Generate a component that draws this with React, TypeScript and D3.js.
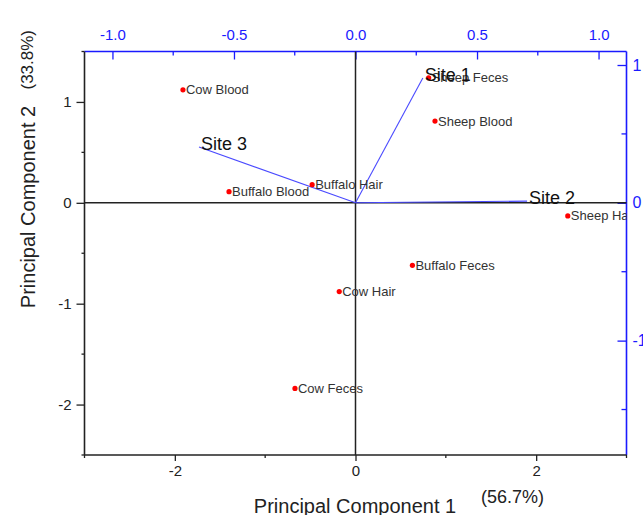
import React, { useEffect, useRef } from 'react';
import * as d3 from 'd3';

// sample scores (PC1, PC2)
const sampleNames = ['Cow Blood', 'Sheep Feces', 'Sheep Blood', 'Buffalo Hair', 'Buffalo Blood', 'Sheep Hair', 'Buffalo Feces', 'Cow Hair', 'Cow Feces'];
const pc1Scores = [-1.91, 0.81, 0.88, -0.48, -1.40, 2.35, 0.63, -0.18, -0.67];
const pc2Scores = [1.12, 1.24, 0.81, 0.18, 0.11, -0.13, -0.62, -0.88, -1.84];

// loadings (top / right axes)
const siteNames = ['Site 1', 'Site 2', 'Site 3'];
const loading1 = [0.277, 0.706, -0.644];
const loading2 = [0.906, 0.012, 0.405];

const bottomTicks = [-2, 0, 2];
const bottomMinor = [-3, -1, 1, 3];
const leftTicks = [1, 0, -1, -2];
const leftMinor = [1.5, 0.5, -0.5, -1.5, -2.5];
const topTicks = [-1.0, -0.5, 0.0, 0.5, 1.0];
const topMinor = [-0.75, -0.25, 0.25, 0.75];
const rightTicks = [1, 0, -1];
const rightMinor = [0.5, -0.5, -1.5];

const App = () => {
    const svgRef = useRef(null);

    useEffect(() => {
        const svg = d3.select(svgRef.current);
        svg.selectAll('*').remove();

        const left = 84.5, right = 626.5, top = 51.5, bottom = 455;
        const blue = '#1a1aff';
        const font = 'Arial, "Liberation Sans", sans-serif';
        const intFmt = d => String(d);
        const oneFmt = d => d.toFixed(1);

        const x = d3.scaleLinear().domain([-3, 3]).range([left, right]);
        const y = d3.scaleLinear().domain([-2.5, 1.5]).range([bottom, top]);
        const xTop = d3.scaleLinear().domain([-1.115, 1.115]).range([left, right]);
        const yRight = d3.scaleLinear().domain([-1.83, 1.098]).range([bottom, top]);

        svg.append('clipPath').attr('id', 'plotclip').append('rect')
            .attr('x', left).attr('y', top).attr('width', right - left).attr('height', bottom - top);

        // bottom axis
        const gb = svg.append('g').attr('transform', `translate(0,${bottom})`);
        gb.call(d3.axisBottom(x).tickValues(bottomTicks).tickSize(6).tickPadding(4).tickFormat(intFmt));
        gb.call(g => g.select('.domain').remove());
        bottomMinor.forEach(v => gb.append('line').attr('x1', x(v)).attr('x2', x(v)).attr('y1', 0).attr('y2', 3).attr('stroke', '#222').attr('stroke-width', 1.3));
        gb.selectAll('.tick line').attr('stroke', '#222').attr('stroke-width', 1.3);
        gb.selectAll('text').attr('font-size', 15).attr('font-family', font).attr('fill', '#222');

        // left axis
        const gl = svg.append('g').attr('transform', `translate(${left},0)`);
        gl.call(d3.axisLeft(y).tickValues(leftTicks).tickSize(8).tickPadding(5).tickFormat(intFmt));
        gl.call(g => g.select('.domain').remove());
        leftMinor.forEach(v => gl.append('line').attr('x1', 0).attr('x2', -3).attr('y1', y(v)).attr('y2', y(v)).attr('stroke', '#222').attr('stroke-width', 1.3));
        gl.selectAll('.tick line').attr('stroke', '#222').attr('stroke-width', 1.3);
        gl.selectAll('text').attr('font-size', 15).attr('font-family', font).attr('fill', '#222');

        // top axis (loadings)
        const gt = svg.append('g').attr('transform', `translate(0,${top})`);
        gt.call(d3.axisTop(xTop).tickValues(topTicks).tickSize(-8).tickPadding(12).tickFormat(oneFmt));
        gt.call(g => g.select('.domain').remove());
        topMinor.forEach(v => gt.append('line').attr('x1', xTop(v)).attr('x2', xTop(v)).attr('y1', 0).attr('y2', 4).attr('stroke', blue).attr('stroke-width', 1.3));
        gt.selectAll('.tick line').attr('stroke', blue).attr('stroke-width', 1.3);
        gt.selectAll('text').attr('font-size', 15).attr('font-family', font).attr('fill', blue);

        // right axis (loadings)
        const gr = svg.append('g').attr('transform', `translate(${right},0)`);
        gr.call(d3.axisRight(yRight).tickValues(rightTicks).tickSize(-9).tickPadding(6).tickFormat(intFmt));
        gr.call(g => g.select('.domain').remove());
        rightMinor.forEach(v => gr.append('line').attr('x1', 0).attr('x2', -5).attr('y1', yRight(v)).attr('y2', yRight(v)).attr('stroke', blue).attr('stroke-width', 1.3));
        gr.selectAll('.tick line').attr('stroke', blue).attr('stroke-width', 1.3);
        gr.selectAll('text').attr('font-size', 16).attr('font-family', font).attr('fill', blue);

        // frame
        svg.append('line').attr('x1', left).attr('x2', right).attr('y1', top).attr('y2', top).attr('stroke', blue).attr('stroke-width', 1.6);
        svg.append('line').attr('x1', right).attr('x2', right).attr('y1', top).attr('y2', bottom).attr('stroke', blue).attr('stroke-width', 1.6);
        svg.append('line').attr('x1', left).attr('x2', right).attr('y1', bottom).attr('y2', bottom).attr('stroke', '#222').attr('stroke-width', 1.6);
        svg.append('line').attr('x1', left).attr('x2', left).attr('y1', top).attr('y2', bottom).attr('stroke', '#222').attr('stroke-width', 1.6);

        // zero lines
        svg.append('line').attr('x1', left).attr('x2', right).attr('y1', y(0)).attr('y2', y(0)).attr('stroke', '#222').attr('stroke-width', 1.5);
        svg.append('line').attr('x1', x(0)).attr('x2', x(0)).attr('y1', top).attr('y2', bottom).attr('stroke', '#222').attr('stroke-width', 1.5);

        // loading vectors
        const sites = siteNames.map((n, i) => ({ n, a: loading1[i], b: loading2[i] }));
        svg.selectAll('.vec').data(sites).enter().append('line')
            .attr('x1', xTop(0)).attr('y1', yRight(0))
            .attr('x2', d => xTop(d.a)).attr('y2', d => yRight(d.b))
            .attr('stroke', '#4a4aff').attr('stroke-width', 1.1);

        // sample points
        const pts = sampleNames.map((n, i) => ({ n, a: pc1Scores[i], b: pc2Scores[i] }));
        const gp = svg.append('g').attr('clip-path', 'url(#plotclip)');
        gp.selectAll('.pt').data(pts).enter().append('circle')
            .attr('cx', d => x(d.a)).attr('cy', d => y(d.b)).attr('r', 2.6).attr('fill', '#ff0000');
        gp.selectAll('.ptl').data(pts).enter().append('text')
            .attr('x', d => x(d.a) + 3).attr('y', d => y(d.b) + 4.5)
            .attr('font-size', 13).attr('font-family', font).attr('fill', '#333')
            .text(d => d.n);

        svg.selectAll('.vl').data(sites).enter().append('text')
            .attr('x', d => xTop(d.a) + 2).attr('y', d => yRight(d.b) + 3)
            .attr('font-size', 18).attr('font-family', font).attr('fill', '#111')
            .text(d => d.n);

        // axis titles
        svg.append('text').attr('x', 355).attr('y', 513).attr('text-anchor', 'middle')
            .attr('font-size', 20).attr('font-family', font).attr('fill', '#222').text('Principal Component 1');
        svg.append('text').attr('x', 481).attr('y', 503)
            .attr('font-size', 18).attr('font-family', font).attr('fill', '#222').text('(56.7%)');
        svg.append('text').attr('transform', 'rotate(-90)').attr('x', -207).attr('y', 35).attr('text-anchor', 'middle')
            .attr('font-size', 20).attr('font-family', font).attr('fill', '#222').text('Principal Component 2');
        svg.append('text').attr('transform', 'rotate(-90)').attr('x', -30).attr('y', 33).attr('text-anchor', 'end')
            .attr('font-size', 17).attr('font-family', font).attr('fill', '#222').text('(33.8%)');
    }, []);

    return <svg ref={svgRef} width={643} height={515} style={{ position: 'absolute', left: 0, top: 0, background: '#fff' }}></svg>;
};

export default App;
